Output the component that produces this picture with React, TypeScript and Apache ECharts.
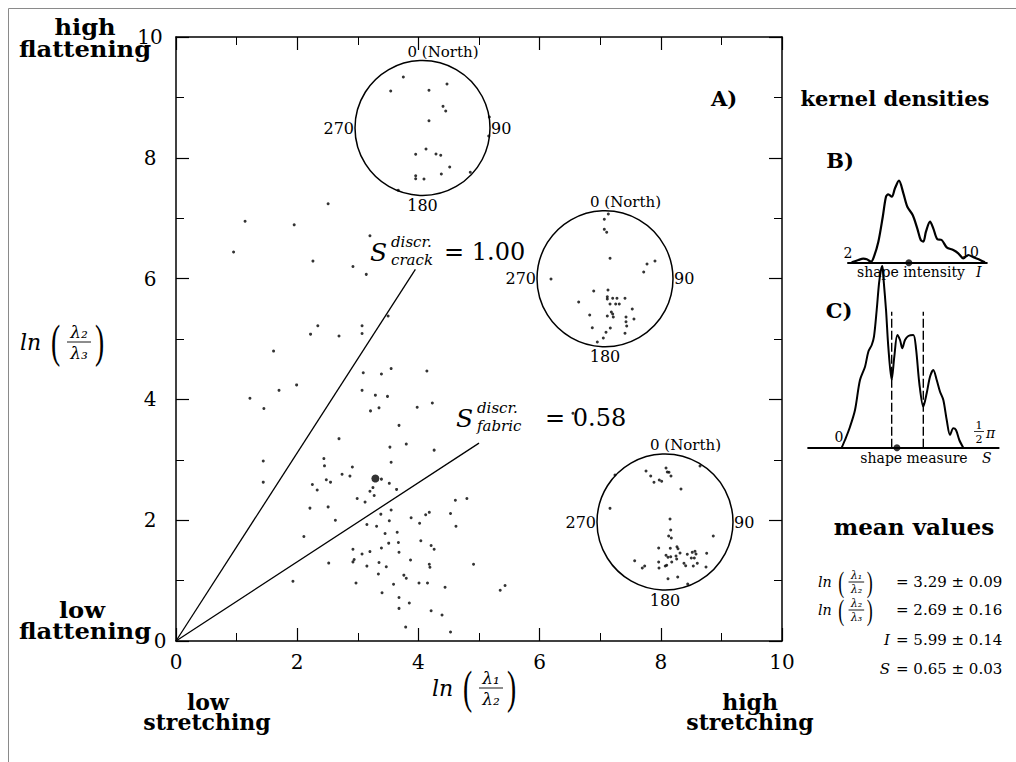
import React, { useEffect, useRef } from "react";
import * as echarts from "echarts";

// ---------------- data ----------------
// ln(l1/l2), ln(l2/l3) of individual samples
const deformationPoints: [number, number][] = [
  [2.51, 7.24], [1.14, 6.95], [1.95, 6.89], [3.2, 6.71], [0.95, 6.44], [2.26, 6.29], [2.92, 6.2],
  [3.14, 6.07], [3.5, 5.38], [2.34, 5.22], [2.22, 5.08], [2.69, 5.05], [3.07, 5.22], [3.07, 5.09],
  [1.61, 4.8], [3.09, 4.44], [3.39, 4.42], [3.55, 4.51], [4.14, 4.47], [1.99, 4.24], [1.7, 4.15],
  [1.22, 4.02], [1.45, 3.85], [3.07, 4.15], [3.29, 4.07], [3.49, 4.05], [3.21, 3.81], [3.35, 3.86],
  [3.98, 3.87], [4.23, 3.94], [3.68, 3.57], [2.69, 3.35], [3.53, 3.21], [3.8, 3.26], [4.26, 3.16],
  [1.44, 2.98], [1.44, 2.63], [2.44, 3.02], [2.45, 2.9], [2.91, 2.88], [3.55, 2.96], [2.48, 2.67],
  [2.55, 2.63], [2.74, 2.76], [2.87, 2.73], [3.39, 2.68], [3.52, 2.61], [2.25, 2.59], [2.33, 2.5],
  [3.25, 2.54], [3.2, 2.48], [3.27, 2.41], [3.64, 2.51], [2.99, 2.36], [3.12, 2.3], [2.21, 2.2],
  [2.51, 2.22], [2.63, 2.0], [3.38, 2.1], [3.55, 2.17], [3.52, 1.99], [3.15, 1.93], [3.31, 1.9],
  [3.45, 1.78], [3.65, 1.8], [3.51, 1.62], [3.67, 1.63], [3.88, 2.04], [4.02, 1.95], [4.12, 2.09],
  [4.18, 2.13], [4.53, 2.11], [4.61, 2.33], [4.8, 2.36], [4.62, 1.9], [2.11, 1.73], [2.92, 1.52],
  [2.94, 1.35], [2.92, 1.31], [3.07, 1.44], [3.2, 1.48], [3.39, 1.54], [3.15, 1.24], [3.35, 1.3],
  [3.47, 1.23], [3.68, 1.47], [4.04, 1.66], [4.21, 1.58], [4.26, 1.52], [3.87, 1.34], [4.18, 1.27],
  [4.19, 1.22], [2.52, 1.29], [3.34, 1.11], [3.76, 1.09], [3.8, 1.04], [2.97, 0.96], [3.59, 0.94],
  [4.01, 0.96], [4.15, 0.96], [4.44, 0.89], [4.91, 1.27], [1.93, 0.99], [3.4, 0.8], [3.68, 0.72],
  [3.68, 0.54], [3.85, 0.63], [4.21, 0.5], [4.39, 0.43], [3.79, 0.23], [4.53, 0.15], [5.35, 0.84],
  [5.43, 0.92], [6.55, 3.77],
];

const meanLn12 = 3.29;
const meanLn23 = 2.69;
const meanI = 5.99;
const meanS = 0.65;
const sCrack = 1.0;
const sFabric = 0.58;
const crackLineEndX = 3.95;
const fabricLineEndX = 5.0;

// stereonet projections (unit circle coordinates: east, north)
const stereoTop: [number, number][] = [
  [-0.284, 0.756], [-0.471, 0.548], [0.096, 0.559], [0.363, 0.652], [0.304, 0.321], [0.344, 0.252],
  [0.096, 0.108], [0.99, 0.163], [0.981, -0.119], [0.052, -0.311], [-0.101, -0.39], [0.2, -0.385],
  [0.27, -0.404], [0.403, -0.578], [0.708, -0.656], [0.279, -0.681], [-0.101, -0.707],
  [-0.101, -0.751], [0.022, -0.756], [-0.359, -0.923],
];
const stereoMiddle: [number, number][] = [
  [0.049, 0.951], [-0.01, 0.874], [-0.01, 0.726], [0.025, 0.682], [0.074, 0.3], [0.735, 0.26],
  [0.618, 0.216], [0.569, 0.099], [-0.794, -0.004], [-0.166, -0.181], [0.044, -0.166],
  [0.034, -0.265], [0.034, -0.299], [0.113, -0.288], [0.176, -0.288], [0.294, -0.288],
  [0.074, -0.372], [0.157, -0.372], [0.21, -0.372], [-0.387, -0.343], [0.401, -0.446],
  [0.426, -0.593], [0.309, -0.563], [0.093, -0.49], [0.113, -0.519], [0.122, -0.563],
  [0.034, -0.549], [-0.225, -0.534], [0.309, -0.632], [0.319, -0.696], [-0.187, -0.721],
  [0.078, -0.725], [0.015, -0.788], [0.294, -0.803], [-0.025, -0.872], [-0.113, -0.931],
];
const stereoBottom: [number, number][] = [
  [-0.279, 0.75], [0.015, 0.794], [0.034, 0.735], [0.059, 0.731], [-0.21, 0.676], [0.088, 0.676],
  [-0.084, 0.618], [-0.049, 0.599], [-0.162, 0.584], [0.515, 0.824], [-0.735, 0.691],
  [0.235, 0.485], [-0.809, 0.201], [0.074, 0.044], [0.084, -0.118], [0.054, -0.206],
  [0.093, -0.235], [0.71, -0.206], [-0.093, -0.382], [0.078, -0.387], [0.176, -0.363],
  [0.191, -0.393], [0.015, -0.49], [0.044, -0.519], [0.084, -0.51], [0.162, -0.5], [0.221, -0.456],
  [0.328, -0.475], [0.401, -0.446], [0.441, -0.431], [0.456, -0.471], [0.613, -0.46],
  [0.387, -0.529], [0.431, -0.529], [0.172, -0.544], [0.099, -0.588], [-0.093, -0.588],
  [0.279, -0.607], [0.304, -0.643], [0.475, -0.607], [0.416, -0.647], [0.603, -0.662],
  [0.004, -0.647], [0.025, -0.637], [-0.088, -0.676], [-0.446, -0.569], [-0.299, -0.647],
  [-0.334, -0.676], [0.044, -0.834], [0.187, -0.809], [0.334, -0.912],
];

// kernel density of shape intensity I
const intensityDensity: [number, number][] = [
  [2.24, 0.004], [2.68, 0.027], [3.0, 0.04], [3.23, 0.034], [3.51, 0.01], [3.7, 0.06], [3.99, 0.21],
  [4.28, 0.46], [4.49, 0.66], [4.64, 0.684], [4.87, 0.66], [5.08, 0.744], [5.34, 0.82],
  [5.63, 0.694], [5.89, 0.56], [6.24, 0.477], [6.54, 0.344], [6.77, 0.227], [6.94, 0.21],
  [7.11, 0.31], [7.38, 0.41], [7.59, 0.344], [7.86, 0.234], [8.14, 0.227], [8.47, 0.154],
  [8.9, 0.127], [9.23, 0.094], [9.56, 0.044], [9.89, 0.077], [10.22, 0.054], [10.66, 0.027],
  [10.98, 0.004],
];
// kernel density of shape measure S
const shapeDensity: [number, number][] = [
  [-0.084, 0], [-0.04, 0.077], [0.027, 0.21], [0.093, 0.377], [0.159, 0.677], [0.226, 0.81],
  [0.27, 0.96], [0.315, 1.027], [0.345, 1.11], [0.381, 1.377], [0.412, 1.644], [0.438, 1.777],
  [0.456, 1.817], [0.469, 1.71], [0.505, 1.377], [0.535, 1.01], [0.58, 0.677], [0.615, 0.91],
  [0.655, 1.127], [0.691, 1.077], [0.721, 0.994], [0.757, 1.077], [0.801, 1.117], [0.867, 1.127],
  [0.903, 0.994], [0.947, 0.644], [1.0, 0.41], [1.045, 0.544], [1.089, 0.71], [1.133, 0.777],
  [1.178, 0.677], [1.222, 0.56], [1.266, 0.477], [1.311, 0.277], [1.355, 0.127], [1.398, 0.194],
  [1.434, 0.177], [1.478, 0.077], [1.531, 0],
];
const discrLineHeight = 1.36;

const meanTable = [
  { name: "l12", value: "3.29", err: "0.09" },
  { name: "l23", value: "2.69", err: "0.16" },
  { name: "I", value: "5.99", err: "0.14" },
  { name: "S", value: "0.65", err: "0.03" },
];

// ---------------- layout ----------------
const FONT = '"DejaVu Serif", serif';
const stereoLayout = [
  { cx: 422.5, cy: 128, r: 67.5 },
  { cx: 605, cy: 278.7, r: 68 },
  { cx: 665, cy: 522, r: 68 },
];

function txt(
  text: string,
  x: number,
  y: number,
  size: number,
  o: { italic?: boolean; bold?: boolean; align?: string; family?: string; scaleX?: number } = {}
): any {
  const font = `${o.italic ? "italic" : "normal"} ${o.bold ? "bold" : "normal"} ${size}px ${o.family || FONT}`;
  const align = o.align || "left";
  return {
    type: "text",
    x,
    y,
    scaleX: o.scaleX || 1,
    z: 20,
    silent: true,
    style: {
      text,
      x: 0,
      y: 0,
      fill: "#000",
      font,
      textAlign: align,
      align,
      textVerticalAlign: "middle",
      verticalAlign: "middle",
    },
  };
}

function lnFrac(x0: number, yc: number, a: string, b: string, s: number): any[] {
  return [
    txt("ln", x0, yc, 22 * s, { italic: true }),
    txt("(", x0 + 31 * s, yc - 1 * s, 46 * s, { family: '"Liberation Serif", serif', scaleX: 0.6 }),
    txt("λ" + a, x0 + 59 * s, yc - 10 * s, 17 * s, { italic: true, align: "center" }),
    {
      type: "line",
      z: 20,
      silent: true,
      shape: { x1: x0 + 47 * s, y1: yc, x2: x0 + 71 * s, y2: yc },
      style: { stroke: "#000", lineWidth: 0.9 },
    },
    txt("λ" + b, x0 + 59 * s, yc + 11 * s, 17 * s, { italic: true, align: "center" }),
    txt(")", x0 + 75 * s, yc - 1 * s, 46 * s, { family: '"Liberation Serif", serif', scaleX: 0.6 }),
  ];
}

function discrLabel(x: number, y: number, sub: string): any[] {
  return [
    txt("S", x, y, 25, { italic: true }),
    txt("discr.", x + 21, y - 10, 15, { italic: true }),
    txt(sub, x + 21, y + 8, 15, { italic: true }),
  ];
}

export default function App() {
  const ref = useRef<HTMLDivElement>(null);

  useEffect(() => {
    if (!ref.current) return;
    const chart = echarts.init(ref.current, undefined, { renderer: "svg" });

    const black = "#000";
    const mainAxisBase = {
      type: "value",
      min: 0,
      max: 10,
      interval: 2,
      gridIndex: 0,
      axisLine: { show: true, onZero: false, lineStyle: { color: black, width: 1.5 } },
      axisTick: { show: true, inside: true, length: 13, lineStyle: { color: black, width: 1.2 } },
      minorTick: { show: true, splitNumber: 2, length: 8, lineStyle: { color: black, width: 1 } },
      splitLine: { show: false },
      minorSplitLine: { show: false },
    };
    const labelStyle = { fontSize: 20, fontFamily: FONT, color: black };
    const hiddenAxis = (gridIndex: number, min: number, max: number) => ({
      type: "value",
      gridIndex,
      min,
      max,
      show: false,
      splitLine: { show: false },
    });

    const graphic: any[] = [
      {
        type: "rect",
        silent: true,
        shape: { x: 8.5, y: 8.5, width: 1200, height: 1000 },
        style: { fill: "none", stroke: "#8a8a8a", lineWidth: 1 },
      },
      // corner labels
      txt("high", 85, 27, 22, { bold: true, align: "center", scaleX: 1.1 }),
      txt("flattening", 85, 49, 22, { bold: true, align: "center", scaleX: 1.1 }),
      txt("low", 82, 610, 22, { bold: true, align: "center", scaleX: 1.1 }),
      txt("flattening", 85, 631, 22, { bold: true, align: "center", scaleX: 1.1 }),
      txt("low", 208, 702, 22, { bold: true, align: "center" }),
      txt("stretching", 207, 722, 22, { bold: true, align: "center" }),
      txt("high", 750, 702, 22, { bold: true, align: "center" }),
      txt("stretching", 750, 722, 22, { bold: true, align: "center" }),
      // axis titles
      ...lnFrac(20, 342, "₂", "₃", 1),
      ...lnFrac(432, 688, "₁", "₂", 1),
      // discrimination labels
      ...discrLabel(370, 252, "crack"),
      txt("= " + sCrack.toFixed(2), 444, 252, 24),
      ...discrLabel(456, 418, "fabric"),
      txt("= " + sFabric.toFixed(2), 545, 418, 24),
      txt("A)", 724, 98, 21, { bold: true, align: "center" }),
      // right panel
      txt("kernel densities", 895, 98, 21, { bold: true, align: "center" }),
      txt("B)", 840, 160, 21, { bold: true, align: "center" }),
      txt("2", 848, 253, 14, { align: "center" }),
      txt("10", 970, 252, 14, { align: "center" }),
      txt("shape intensity", 911, 272, 14, { align: "center" }),
      txt("I", 976, 272, 14, { italic: true }),
      txt("C)", 839, 310, 21, { bold: true, align: "center" }),
      txt("0", 839, 437, 14, { align: "center" }),
      txt("1", 979, 425, 11, { align: "center" }),
      {
        type: "line",
        silent: true,
        z: 20,
        shape: { x1: 974, y1: 431.5, x2: 984, y2: 431.5 },
        style: { stroke: black, lineWidth: 0.8 },
      },
      txt("2", 979, 439, 11, { align: "center" }),
      txt("π", 986, 433, 14, { italic: true }),
      txt("shape measure", 914, 458, 14, { align: "center" }),
      txt("S", 982, 458, 14, { italic: true }),
      txt("mean values", 914, 527, 22, { bold: true, align: "center", scaleX: 1.05 }),
      ...lnFrac(818, 582, "₁", "₂", 0.65),
      txt(`= ${meanTable[0].value} ± ${meanTable[0].err}`, 896, 582, 15),
      ...lnFrac(818, 610, "₂", "₃", 0.65),
      txt(`= ${meanTable[1].value} ± ${meanTable[1].err}`, 896, 610, 15),
      txt("I", 890, 640, 15, { italic: true, align: "right" }),
      txt(`= ${meanTable[2].value} ± ${meanTable[2].err}`, 896, 640, 15),
      txt("S", 890, 669, 15, { italic: true, align: "right" }),
      txt(`= ${meanTable[3].value} ± ${meanTable[3].err}`, 896, 669, 15),
    ];

    stereoLayout.forEach(({ cx, cy, r }) => {
      graphic.push({
        type: "circle",
        silent: true,
        z: 5,
        shape: { cx, cy, r },
        style: { fill: "none", stroke: black, lineWidth: 1.5 },
      });
      graphic.push(txt("0 (North)", cx - 15, cy - r - 9, 15));
      graphic.push(txt("270", cx - r - 1, cy, 16, { align: "right" }));
      graphic.push(txt("90", cx + r + 1, cy, 16));
      graphic.push(txt("180", cx, cy + r + 10, 16, { align: "center" }));
    });

    const stereoData = [stereoTop, stereoMiddle, stereoBottom];

    const option: any = {
      animation: false,
      backgroundColor: "#fff",
      grid: [
        { left: 176, top: 37, width: 606, height: 604 },
        ...stereoLayout.map(({ cx, cy, r }) => ({ left: cx - r, top: cy - r, width: 2 * r, height: 2 * r })),
        { left: 848, top: 162.7, width: 138.8, height: 100 },
        { left: 808.1, top: 247.7, width: 190.5, height: 200 },
      ],
      xAxis: [
        {
          ...mainAxisBase,
          position: "bottom",
          axisLabel: { ...labelStyle, margin: 11 },
        },
        { ...mainAxisBase, position: "top", axisLabel: { show: false } },
        hiddenAxis(1, -1, 1),
        hiddenAxis(2, -1, 1),
        hiddenAxis(3, -1, 1),
        {
          type: "value",
          gridIndex: 4,
          min: 2,
          max: 11.1,
          axisLine: { show: true, onZero: false, lineStyle: { color: black, width: 2 } },
          axisTick: { show: false },
          axisLabel: { show: false },
          splitLine: { show: false },
        },
        {
          type: "value",
          gridIndex: 5,
          min: -0.53,
          max: 2.0,
          axisLine: { show: true, onZero: false, lineStyle: { color: black, width: 2 } },
          axisTick: { show: false },
          axisLabel: { show: false },
          splitLine: { show: false },
        },
      ],
      yAxis: [
        {
          ...mainAxisBase,
          position: "left",
          axisLabel: {
            ...labelStyle,
            align: "center",
            margin: 26,
            formatter: (v: number) => (v === 0 ? "{z|0}" : String(v)),
            rich: { z: { ...labelStyle, padding: [0, 0, 0, 20] } },
          },
        },
        { ...mainAxisBase, position: "right", axisLabel: { show: false } },
        hiddenAxis(1, -1, 1),
        hiddenAxis(2, -1, 1),
        hiddenAxis(3, -1, 1),
        hiddenAxis(4, 0, 1),
        hiddenAxis(5, 0, 2),
      ],
      series: [
        {
          type: "scatter",
          xAxisIndex: 0,
          yAxisIndex: 0,
          data: deformationPoints,
          symbolSize: 3,
          itemStyle: { color: black },
        },
        {
          type: "line",
          xAxisIndex: 0,
          yAxisIndex: 0,
          data: [
            [0, 0],
            [crackLineEndX, crackLineEndX * Math.tan(sCrack)],
          ],
          symbol: "none",
          lineStyle: { color: black, width: 1.3 },
        },
        {
          type: "line",
          xAxisIndex: 0,
          yAxisIndex: 0,
          data: [
            [0, 0],
            [fabricLineEndX, fabricLineEndX * Math.tan(sFabric)],
          ],
          symbol: "none",
          lineStyle: { color: black, width: 1.3 },
        },
        {
          type: "scatter",
          xAxisIndex: 0,
          yAxisIndex: 0,
          data: [[meanLn12, meanLn23]],
          symbolSize: 8,
          itemStyle: { color: black },
          z: 5,
        },
        ...stereoData.map((d, i) => ({
          type: "scatter",
          xAxisIndex: 2 + i,
          yAxisIndex: 2 + i,
          data: d,
          symbolSize: 3,
          itemStyle: { color: black },
        })),
        {
          type: "line",
          xAxisIndex: 5,
          yAxisIndex: 5,
          data: intensityDensity,
          smooth: 0.3,
          symbol: "none",
          lineStyle: { color: black, width: 2.2 },
        },
        {
          type: "scatter",
          xAxisIndex: 5,
          yAxisIndex: 5,
          data: [[meanI, 0]],
          symbolSize: 7,
          itemStyle: { color: black },
          z: 5,
        },
        {
          type: "line",
          xAxisIndex: 6,
          yAxisIndex: 6,
          data: shapeDensity,
          smooth: 0.3,
          symbol: "none",
          lineStyle: { color: black, width: 2 },
        },
        ...[sFabric, sCrack].map((s) => ({
          type: "line",
          xAxisIndex: 6,
          yAxisIndex: 6,
          data: [
            [s, 0],
            [s, discrLineHeight],
          ],
          symbol: "none",
          lineStyle: { color: black, width: 1.4, type: [9, 3] },
        })),
        {
          type: "scatter",
          xAxisIndex: 6,
          yAxisIndex: 6,
          data: [[meanS, 0]],
          symbolSize: 7,
          itemStyle: { color: black },
          z: 5,
        },
      ],
      graphic,
    };

    chart.setOption(option);
    return () => chart.dispose();
  }, []);

  return (
    <div
      ref={ref}
      style={{ position: "fixed", left: 0, top: 0, width: 1016, height: 762, background: "#fff" }}
    />
  );
}
